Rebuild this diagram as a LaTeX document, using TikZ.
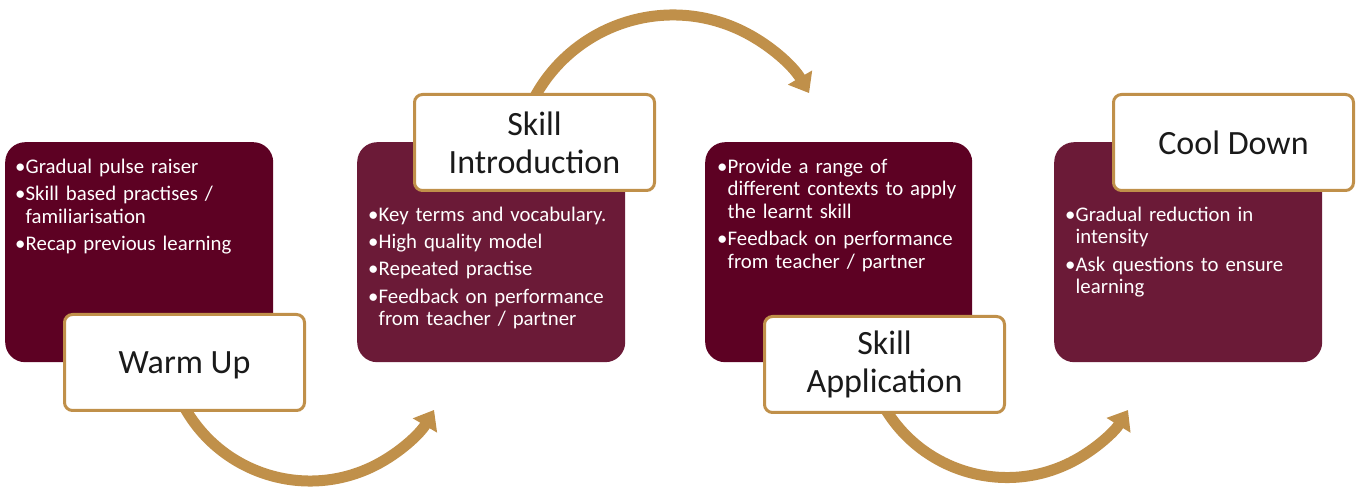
\documentclass[tikz,border=0pt]{standalone}
\usepackage{fontspec}
\setmainfont{Carlito}
\usetikzlibrary{arrows.meta}
\definecolor{maroonA}{HTML}{5D0123}
\definecolor{maroonB}{HTML}{6B1A37}
\definecolor{goldC}{HTML}{C0904A}
\definecolor{inkD}{HTML}{1A1A1A}
\newcommand\bitem[1]{\par\hangindent=10.5pt\hangafter=1\noindent\makebox[10.5pt][l]{\textbullet}#1\par}
\begin{document}
\begin{tikzpicture}[x=1pt,y=1pt,
  panel/.style={rounded corners=20pt, minimum height=220pt, inner sep=0pt, anchor=north west, draw=none},
  lbl/.style={draw=goldC, line width=3pt, fill=white, rounded corners=8pt, minimum width=240pt, minimum height=96pt,
     inner sep=0pt, anchor=north west, align=center, text=inkD, font=\fontsize{34}{38}\selectfont},
  bul/.style={text=white, text width=255pt, align=left, inner sep=0pt, anchor=base west,
     font=\fontsize{20.8}{22.5}\selectfont},
  flow/.style={draw=goldC, line width=11pt, -{Triangle[width=27pt,length=18pt]}}]
\useasboundingbox (0,0) rectangle (1357,489);
% panels
\node[panel, fill=maroonA, minimum width=268pt] (b1) at (5,347) {};
\node[panel, fill=maroonB, minimum width=268pt] (b2) at (357,347) {};
\node[panel, fill=maroonA, minimum width=267pt] (b3) at (705,347) {};
\node[panel, fill=maroonB, minimum width=268pt] (b4) at (1054,347) {};
% bullet texts
\node[bul] (t1) at (15,343) {\setlength{\parskip}{4.8pt}%
  \bitem{Gradual pulse raiser}\bitem{Skill based practises /\newline familiarisation}\bitem{Recap previous learning}};
\node[bul] (t2) at (368,295) {\setlength{\parskip}{4.8pt}%
  \bitem{Key terms and vocabulary.}\bitem{High quality model}\bitem{Repeated practise}\bitem{Feedback on performance\newline from teacher / partner}};
\node[bul] (t3) at (717,343) {\setlength{\parskip}{4.8pt}%
  \bitem{Provide a range of\newline different contexts to apply\newline the learnt skill}\bitem{Feedback on performance\newline from teacher / partner}};
\node[bul] (t4) at (1065,295) {\setlength{\parskip}{4.8pt}%
  \bitem{Gradual reduction in\newline intensity}\bitem{Ask questions to ensure\newline learning}};
% arrows
\coordinate (a1s) at ({310+143.8*cos(207)},{151.8+143.8*sin(207)});
\coordinate (a2s) at ({673+157.6*cos(154)},{316.4+157.6*sin(154)});
\coordinate (a3s) at ({1007+142.2*cos(208)},{153.7+142.2*sin(208)});
\draw[flow] (a1s) arc[start angle=207, end angle=329.6, radius=143.8];
\draw[flow] (a2s) arc[start angle=154, end angle=30.3, radius=157.6];
\draw[flow] (a3s) arc[start angle=208, end angle=328.3, radius=142.2];
% labels
\node[lbl, text depth=0pt] (l1) at (63,176) {Warm Up};
\node[lbl] (l2) at (413,396) {Skill\\Introduction};
\node[lbl] (l3) at (763,174) {Skill\\Application};
\node[lbl] (l4) at (1112,396) {Cool Down};
\end{tikzpicture}
\end{document}
